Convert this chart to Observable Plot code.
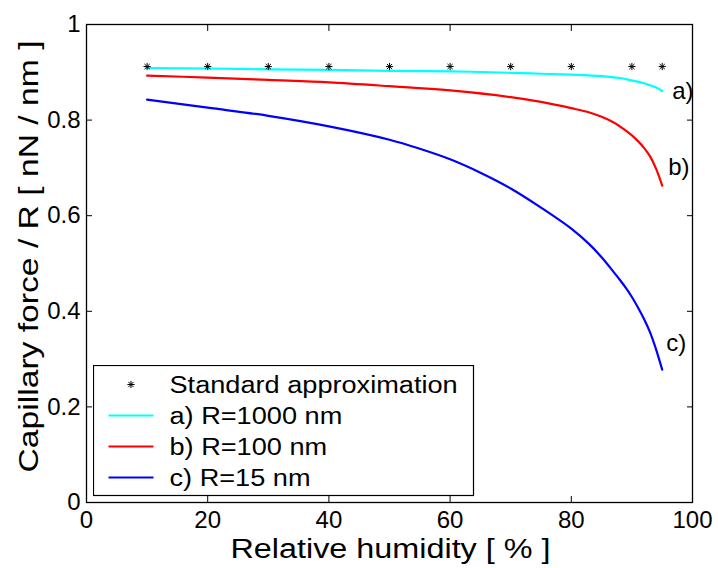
<!DOCTYPE html>
<html><head><meta charset="utf-8">
<script src="https://cdn.jsdelivr.net/npm/d3@7"></script>
<script src="https://cdn.jsdelivr.net/npm/@observablehq/plot@0.6"></script>
<style>
html,body{margin:0;padding:0;background:#fff;}
#wrap{position:relative;width:718px;height:568px;}
#legend{position:absolute;left:93px;top:365px;}
</style></head><body><div id="wrap"></div>
<script>
const FONT = "'Liberation Sans', Arial, Helvetica, sans-serif";

// ticks and titles
const xTicks = [0, 20, 40, 60, 80, 100];
const yTicks = [0, 0.2, 0.4, 0.6, 0.8, 1];
const xTickLabels = ["0", "20", "40", "60", "80", "100"];
const yTickLabels = ["0", "0.2", "0.4", "0.6", "0.8", "1"];
const xTitle = "Relative humidity [ % ]";
const yTitle = "Capillary force / R [ nN / nm ]";

// Standard approximation (stars)
const stdRH = [10, 20, 30, 40, 50, 60, 70, 80, 90, 95];
const stdForce = [0.912, 0.912, 0.912, 0.912, 0.912, 0.912, 0.912, 0.912, 0.912, 0.912];

// a) R = 1000 nm
const rhA = [10, 20, 30, 40, 50, 60, 70, 75, 80, 85, 88, 90, 92, 94, 95];
const forceA = [0.909, 0.908, 0.906, 0.905, 0.903, 0.902, 0.899, 0.897, 0.895, 0.892, 0.888, 0.883, 0.877, 0.868, 0.861];

// b) R = 100 nm
const rhB = [10, 20, 30, 40, 50, 60, 70, 75, 80, 83, 85, 87, 88, 89, 90, 91, 92, 93, 94, 95];
const forceB = [0.893, 0.889, 0.884, 0.879, 0.871, 0.862, 0.848, 0.838, 0.825, 0.816, 0.807, 0.795, 0.787, 0.778, 0.768, 0.756, 0.742, 0.724, 0.698, 0.663];

// c) R = 15 nm
const rhC = [10, 20, 30, 40, 50, 55, 60, 65, 70, 75, 80, 83, 85, 87, 88, 89, 90, 91, 92, 93, 94, 95];
const forceC = [0.843, 0.826, 0.809, 0.787, 0.759, 0.740, 0.718, 0.690, 0.657, 0.617, 0.573, 0.540, 0.513, 0.482, 0.466, 0.449, 0.430, 0.408, 0.384, 0.356, 0.320, 0.278];

const seriesNames = ["Standard approximation", "a) R=1000 nm", "b) R=100 nm", "c) R=15 nm"];
const seriesColors = ["black", "#00ffff", "#ff0000", "#0000ff"];
const endLabels = ["a)", "b)", "c)"];

const toRows = (xs, ys) => xs.map((x, i) => ({x, y: ys[i]}));
const tStd = toRows(stdRH, stdForce);
const tA = toRows(rhA, forceA);
const tB = toRows(rhB, forceB);
const tC = toRows(rhC, forceC);

const star = {
  draw(ctx, size) {
    const r = Math.sqrt(size / Math.PI), d = r * 0.72;
    ctx.moveTo(0, -r); ctx.lineTo(0, r);
    ctx.moveTo(-r, 0); ctx.lineTo(r, 0);
    ctx.moveTo(-d, -d); ctx.lineTo(d, d);
    ctx.moveTo(-d, d); ctx.lineTo(d, -d);
  }
};

const lw = 2.2;
const crv = "catmull-rom";
const chart = Plot.plot({
  width: 718, height: 568,
  marginLeft: 86, marginRight: 26, marginTop: 24, marginBottom: 66,
  style: {fontFamily: FONT, background: "white", color: "black", overflow: "visible"},
  x: {domain: [0, 100]},
  y: {domain: [0, 1]},
  marks: [
    Plot.axisX(xTicks, {anchor: "bottom", tickSize: 6, dy: -6, tickFormat: () => "", label: null}),
    Plot.axisX(xTicks, {anchor: "top", tickSize: 6, dy: 6, tickFormat: () => "", label: null}),
    Plot.axisY(yTicks, {anchor: "left", tickSize: 6, dx: 6, tickFormat: () => "", label: null}),
    Plot.axisY(yTicks, {anchor: "right", tickSize: 6, dx: -6, tickFormat: () => "", label: null}),
    Plot.axisX(xTicks, {anchor: "bottom", tickSize: 0, tickPadding: 8, fontSize: 24,
      tickFormat: d => xTickLabels[xTicks.indexOf(d)], label: null}),
    Plot.axisY(yTicks, {anchor: "left", tickSize: 0, tickPadding: 6, fontSize: 24,
      tickFormat: d => yTickLabels[yTicks.indexOf(d)], label: null}),
    Plot.line(tC, {x: "x", y: "y", stroke: seriesColors[3], strokeWidth: lw, curve: crv}),
    Plot.line(tB, {x: "x", y: "y", stroke: seriesColors[2], strokeWidth: lw, curve: crv}),
    Plot.line(tA, {x: "x", y: "y", stroke: seriesColors[1], strokeWidth: lw, curve: crv}),
    Plot.dot(tStd, {x: "x", y: "y", symbol: star, r: 3.6, stroke: "black", fill: "none", strokeWidth: 1}),
    Plot.text([tA[tA.length - 1]], {x: "x", y: "y", text: () => endLabels[0], dx: 10, dy: 0, textAnchor: "start", fontSize: 24}),
    Plot.text([tB[tB.length - 1]], {x: "x", y: "y", text: () => endLabels[1], dx: 6, dy: -18, textAnchor: "start", fontSize: 24}),
    Plot.text([tC[tC.length - 1]], {x: "x", y: "y", text: () => endLabels[2], dx: 4, dy: -26, textAnchor: "start", fontSize: 24}),
    Plot.text([xTitle], {frameAnchor: "bottom", text: d => d, textAnchor: "start", dx: -159, dy: 55, fontSize: 27}),
    Plot.text([yTitle], {frameAnchor: "left", text: d => d, rotate: -90, textAnchor: "start", dx: -57, dy: 209, fontSize: 27}),
    Plot.frame({stroke: "black", strokeWidth: 1.3})
  ]
});

const wrap = document.getElementById("wrap");
wrap.appendChild(chart);

d3.select(chart).selectAll("text").each(function () {
  if (this.textContent === xTitle) d3.select(this).attr("textLength", 320).attr("lengthAdjust", "spacingAndGlyphs");
  if (this.textContent === yTitle) d3.select(this).attr("textLength", 432).attr("lengthAdjust", "spacingAndGlyphs");
});

// Legend
const lg = d3.select(wrap).append("svg").attr("id", "legend")
  .attr("width", 382).attr("height", 132)
  .style("font-family", FONT);
lg.append("rect").attr("x", 0.5).attr("y", 0.5).attr("width", 380).attr("height", 130)
  .attr("fill", "white").attr("stroke", "black").attr("stroke-width", 1.2);
const rowY0 = 19.5, rowStep = 31;
seriesNames.forEach((name, i) => {
  const cy = rowY0 + i * rowStep;
  if (i === 0) {
    const p = d3.path();
    star.draw(p, 3.6 * 3.6 * Math.PI);
    lg.append("path").attr("d", p.toString()).attr("transform", `translate(38,${cy})`)
      .attr("stroke", "black").attr("fill", "none").attr("stroke-width", 1);
  } else {
    lg.append("line").attr("x1", 15.5).attr("x2", 60.5).attr("y1", cy).attr("y2", cy)
      .attr("stroke", seriesColors[i]).attr("stroke-width", lw);
  }
  const t = lg.append("text").attr("x", 76.5).attr("y", cy + 8.3)
    .attr("font-size", 23).attr("fill", "black").text(name);
  const len = t.node().getComputedTextLength();
  t.attr("textLength", len * 1.18).attr("lengthAdjust", "spacingAndGlyphs");
});
</script>
</body></html>
